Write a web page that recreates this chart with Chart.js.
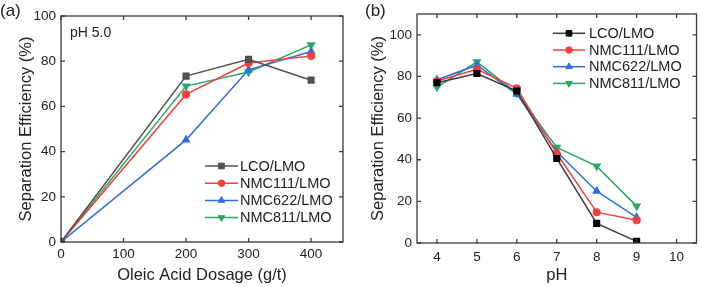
<!DOCTYPE html>
<html>
<head>
<meta charset="utf-8">
<script src="https://cdn.jsdelivr.net/npm/chart.js@4/dist/chart.umd.min.js"></script>
<style>
html,body{margin:0;padding:0;background:#fff;width:702px;height:287px;overflow:hidden;}
.wrap{position:absolute;top:0;height:287px;width:351px;}
#wa{left:0;} #wb{left:351px;}
</style>
</head>
<body>
<div class="wrap" id="wa"><canvas id="ca" width="351" height="287"></canvas></div>
<div class="wrap" id="wb"><canvas id="cb" width="351" height="287"></canvas></div>
<script>
// ---- Data ----
const seriesNames = ['LCO/LMO', 'NMC111/LMO', 'NMC622/LMO', 'NMC811/LMO'];

// Panel (a): separation efficiency vs oleic acid dosage (g/t), pH 5.0
const dosage = [0, 200, 300, 400];
const aLCO    = [0, 73.4, 80.8, 71.6];
const aNMC111 = [0, 65.3, 79.2, 82.3];
const aNMC622 = [0, 45.2, 76.2, 84.3];
const aNMC811 = [0, 69.0, 75.2, 87.2];

// Panel (b): separation efficiency vs pH
const pHvals  = [4, 5, 6, 7, 8, 9];
const bLCO    = [77.0, 81.4, 73.0, 40.6, 9.4, 0.8];
const bNMC111 = [77.8, 83.4, 74.3, 43.0, 14.8, 10.9];
const bNMC622 = [78.4, 85.4, 71.5, 43.8, 24.9, 12.3];
const bNMC811 = [74.9, 87.0, 72.0, 45.9, 36.9, 17.7];

const aXTicks = [0, 100, 200, 300, 400];
const aYTicks = [0, 20, 40, 60, 80, 100];
const bXTicks = [4, 5, 6, 7, 8, 9, 10];
const bYTicks = [0, 20, 40, 60, 80, 100];

const FONT = "'Liberation Sans', Arial, sans-serif";
const frameColor = '#3a3a3a';

function mkStyles(lcoColor, lcoMarker) {
  return [
    {line: lcoColor, marker: lcoMarker, style: 'rect', rot: 0, r: 4.0},
    {line: '#f5403f', marker: '#f5403f', style: 'circle', rot: 0, r: 3.3},
    {line: '#2c6fe0', marker: '#2c6fe0', style: 'triangle', rot: 0, r: 3.8},
    {line: '#2aa862', marker: '#2aa862', style: 'triangle', rot: 180, r: 3.8}
  ];
}

function ds(xs, ys, name, st) {
  return {
    label: name,
    data: xs.map((x, i) => ({x: x, y: ys[i]})),
    borderColor: st.line,
    backgroundColor: st.marker,
    pointBackgroundColor: st.marker,
    pointBorderColor: st.marker,
    pointStyle: st.style,
    pointRotation: st.rot,
    pointRadius: st.r,
    borderWidth: 1.5,
    tension: 0,
    _st: st
  };
}

// frame + inward ticks
const framePlugin = {
  id: 'frame',
  afterDraw(chart, args, opts) {
    const {ctx, chartArea: a, scales} = chart;
    ctx.save();
    ctx.strokeStyle = frameColor;
    ctx.lineWidth = 1.3;
    ctx.strokeRect(a.left, a.top, a.right - a.left, a.bottom - a.top);
    const tl = 4;
    ctx.beginPath();
    opts.xt.forEach(v => {
      const px = scales.x.getPixelForValue(v);
      ctx.moveTo(px, a.bottom); ctx.lineTo(px, a.bottom - tl);
      ctx.moveTo(px, a.top); ctx.lineTo(px, a.top + tl);
    });
    opts.yt.forEach(v => {
      const py = scales.y.getPixelForValue(v);
      ctx.moveTo(a.left, py); ctx.lineTo(a.left + tl, py);
      ctx.moveTo(a.right, py); ctx.lineTo(a.right - tl, py);
    });
    ctx.stroke();
    ctx.restore();
  }
};

// custom legend (line + marker) and annotations
const legendPlugin = {
  id: 'mylegend',
  afterDraw(chart, args, opts) {
    const ctx = chart.ctx;
    ctx.save();
    chart.data.datasets.forEach((d, i) => {
      const st = d._st;
      const y = opts.y0 + i * opts.dy;
      ctx.strokeStyle = st.line;
      ctx.lineWidth = 1.5;
      ctx.beginPath();
      ctx.moveTo(opts.x0, y); ctx.lineTo(opts.x1, y);
      ctx.stroke();
      ctx.fillStyle = st.marker;
      ctx.strokeStyle = st.marker;
      ctx.lineWidth = 1;
      Chart.helpers.drawPoint(ctx, {pointStyle: st.style, rotation: st.rot, radius: st.r, borderWidth: 1},
        (opts.x0 + opts.x1) / 2, y);
      ctx.fillStyle = '#222';
      ctx.font = '14.5px ' + FONT;
      ctx.textBaseline = 'middle';
      ctx.textAlign = 'left';
      ctx.fillText(d.label, opts.tx, y + 0.5);
    });
    ctx.fillStyle = '#222';
    ctx.textBaseline = 'middle';
    ctx.textAlign = 'left';
    ctx.font = '17px ' + FONT;
    ctx.fillText(opts.panel, opts.px, 11);
    if (opts.note) {
      ctx.font = '14px ' + FONT;
      ctx.fillText(opts.note, opts.note_x, opts.note_y);
    }
    ctx.restore();
  }
};

function makeChart(id, cfg) {
  const datasets = cfg.series.map((ys, i) => ds(cfg.xs, ys, seriesNames[i], cfg.styles[i]));
  return new Chart(document.getElementById(id), {
    type: 'line',
    data: {datasets},
    options: {
      responsive: false,
      animation: false,
      devicePixelRatio: 1,
      layout: {padding: cfg.pad},
      plugins: {
        legend: {display: false},
        tooltip: {enabled: false},
        frame: {xt: cfg.xt, yt: cfg.yt},
        mylegend: cfg.leg
      },
      scales: {
        x: {
          type: 'linear', min: cfg.xmin, max: cfg.xmax,
          afterBuildTicks: s => { s.ticks = cfg.xt.map(v => ({value: v})); },
          afterFit: s => { s.height = cfg.xh; },
          grid: {display: false, drawTicks: false},
          border: {display: false},
          ticks: {color: '#222', font: {family: FONT, size: 13.5}, padding: cfg.xpad, maxRotation: 0},
          title: {display: true, text: cfg.xtitle, color: '#222', font: {family: FONT, size: 16.5}, padding: {top: 0, bottom: 2}}
        },
        y: {
          type: 'linear', min: cfg.ymin, max: cfg.ymax,
          afterBuildTicks: s => { s.ticks = cfg.yt.map(v => ({value: v})); },
          afterFit: s => { s.width = cfg.yw; },
          grid: {display: false, drawTicks: false},
          border: {display: false},
          ticks: {color: '#222', font: {family: FONT, size: 13.5}, padding: 5},
          title: {display: true, text: 'Separation Efficiency (%)', color: '#222', font: {family: FONT, size: 16.5}, padding: {top: cfg.ytp, bottom: 0}}
        }
      }
    },
    plugins: [framePlugin, legendPlugin]
  });
}

makeChart('ca', {
  xs: dosage,
  series: [aLCO, aNMC111, aNMC622, aNMC811],
  styles: mkStyles('#505050', '#505050'),
  xmin: 0, xmax: 451, ymin: 0, ymax: 100,
  xt: aXTicks, yt: aYTicks,
  pad: {left: 0, top: 16, right: 8, bottom: 0},
  xh: 45, yw: 61, xpad: 4, ytp: 17,
  xtitle: 'Oleic Acid Dosage (g/t)',
  leg: {x0: 205, x1: 238, tx: 240, y0: 166, dy: 17.2, panel: '(a)', px: 0, note: 'pH 5.0', note_x: 70, note_y: 33}
});

makeChart('cb', {
  xs: pHvals,
  series: [bLCO, bNMC111, bNMC622, bNMC811],
  styles: mkStyles('#3c3c3c', '#000000'),
  xmin: 3.5, xmax: 10.5, ymin: 0, ymax: 110,
  xt: bXTicks, yt: bYTicks,
  pad: {left: 0, top: 14, right: 1, bottom: 0},
  xh: 44, yw: 66, xpad: 6, ytp: 18,
  xtitle: 'pH',
  leg: {x0: 202, x1: 234, tx: 238, y0: 33.3, dy: 16.7, panel: '(b)', px: 14}
});
</script>
</body>
</html>
